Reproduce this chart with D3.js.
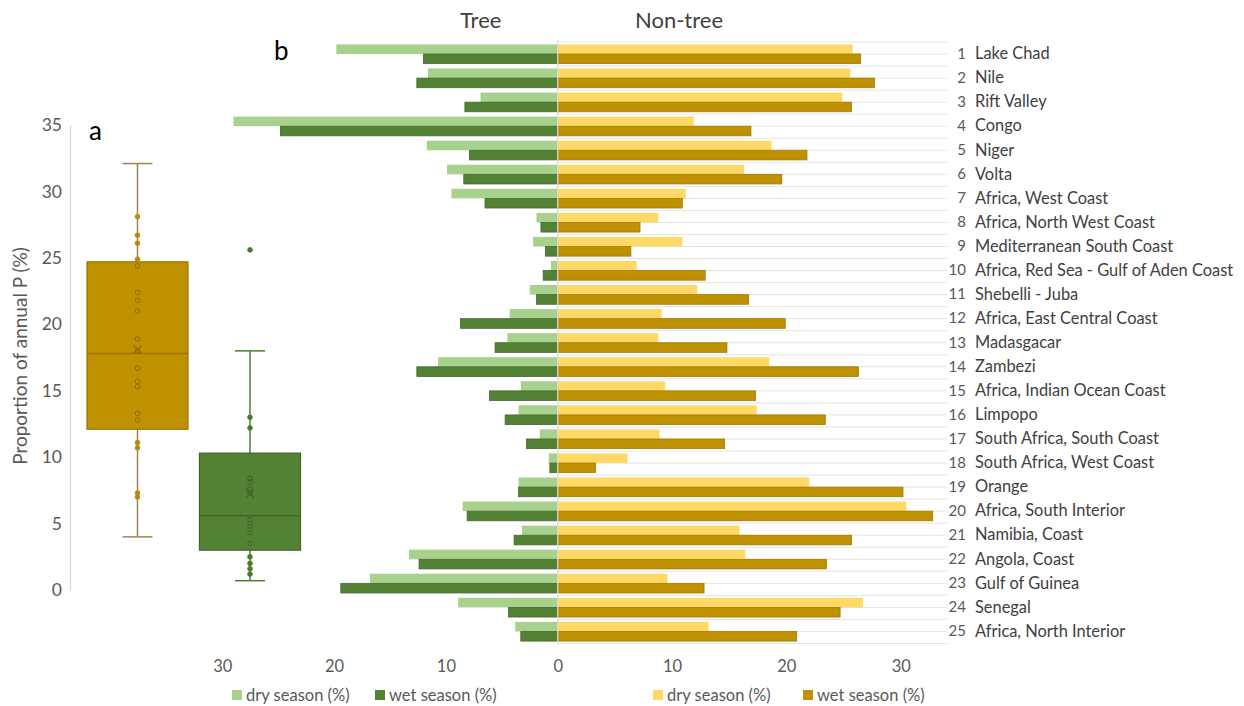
<!DOCTYPE html>
<html>
<head>
<meta charset="utf-8">
<script src="https://cdn.jsdelivr.net/npm/d3@7"></script>
<style>
  html, body { margin: 0; padding: 0; background: #ffffff; }
  svg { display: block; font-family: "Lato", "Open Sans", sans-serif; }
</style>
</head>
<body>
<svg id="chart" width="1244" height="706"></svg>
<script>
// ---- Data ---------------------------------------------------------------
const regions = [
  "Lake Chad", "Nile", "Rift Valley", "Congo", "Niger", "Volta",
  "Africa, West Coast", "Africa, North West Coast", "Mediterranean South Coast",
  "Africa, Red Sea - Gulf of Aden Coast", "Shebelli - Juba",
  "Africa, East Central Coast", "Madasgacar", "Zambezi",
  "Africa, Indian Ocean Coast", "Limpopo", "South Africa, South Coast",
  "South Africa, West Coast", "Orange", "Africa, South Interior",
  "Namibia, Coast", "Angola, Coast", "Gulf of Guinea", "Senegal",
  "Africa, North Interior"
];

// Proportion of annual P (%) falling on tree cover
const treeDry = [19.8, 11.6, 6.9, 29.0, 11.7, 9.9, 9.5, 1.9, 2.2, 0.6, 2.5, 4.3, 4.5,
                 10.7, 3.3, 3.5, 1.6, 0.8, 3.5, 8.5, 3.2, 13.3, 16.8, 8.9, 3.8];
const treeWet = [12.0, 12.6, 8.3, 24.8, 7.9, 8.4, 6.5, 1.5, 1.1, 1.3, 1.9, 8.7, 5.6,
                 12.6, 6.1, 4.7, 2.8, 0.7, 3.5, 8.1, 3.9, 12.4, 19.4, 4.4, 3.3];

// Proportion of annual P (%) falling on non-tree cover
const nonTreeDry = [25.8, 25.6, 24.9, 11.9, 18.7, 16.3, 11.2, 8.8, 10.9, 6.9, 12.2, 9.1, 8.8,
                    18.5, 9.4, 17.4, 8.9, 6.1, 22.0, 30.5, 15.9, 16.4, 9.6, 26.7, 13.2];
const nonTreeWet = [26.5, 27.7, 25.7, 16.9, 21.8, 19.6, 10.9, 7.2, 6.4, 12.9, 16.7, 19.9, 14.8,
                    26.3, 17.3, 23.4, 14.6, 3.3, 30.2, 32.8, 25.7, 23.5, 12.8, 24.7, 20.9];

const barTicks = [0, 10, 20, 30];
const legendLabels = ["dry season (%)", "wet season (%)"];

// Box plot summaries (panel a)
const boxGroups = ["Non-tree", "Tree"];
const boxLow    = [4.0, 0.7];
const boxQ1     = [12.1, 3.0];
const boxMedian = [17.8, 5.6];
const boxQ3     = [24.7, 10.3];
const boxHigh   = [32.1, 18.0];
const boxMean   = [18.1, 7.25];
const boxPointsNonTree = [28.1, 26.7, 26.1, 24.9, 24.4, 22.4, 21.8, 21.0, 18.9, 18.0, 16.7,
                          15.7, 15.3, 13.3, 12.8, 11.1, 10.7, 7.3, 7.0];
const boxPointsTree = [25.6, 13.0, 12.2, 8.4, 8.1, 7.6, 7.3, 5.3, 4.8, 4.3, 3.5, 2.5, 2.0, 1.6, 1.2];
const boxTicks = [0, 5, 10, 15, 20, 25, 30, 35];

// ---- Styling ------------------------------------------------------------
const col = {
  treeDry: "#a9d18e", treeWet: "#548235", treeWetEdge: "#416a28",
  ntDry: "#ffd966", ntWet: "#bf9000", ntWetEdge: "#a37b00",
  text: "#595959", dark: "#404040", grid: "#e4e4e4"
};

const svg = d3.select("#chart");

// ---- Panel b: mirrored bars ---------------------------------------------
const x0 = 557.7;
const xTree = d3.scaleLinear().domain([0, 30]).range([x0, 222.3]);
const xNon  = d3.scaleLinear().domain([0, 30]).range([x0, 900.7]);
const y = d3.scaleBand().domain(regions).range([42, 643.5]).paddingInner(0.2).paddingOuter(0.1);
const half = y.bandwidth() / 2;
const step = y.step();

// light horizontal grid on the non-tree side
const gridG = svg.append("g");
d3.range(0, regions.length * 2 + 1).forEach(i => {
  const gy = 42 + i * step / 2;
  gridG.append("line")
    .attr("x1", x0).attr("x2", 947).attr("y1", gy).attr("y2", gy)
    .attr("stroke", col.grid).attr("stroke-width", 1);
});

const rows = regions.map((r, i) => ({ r, i }));

// tree bars (to the left)
const gTree = svg.append("g");
gTree.selectAll("rect.dry").data(rows).join("rect")
  .attr("x", d => xTree(treeDry[d.i]))
  .attr("y", d => y(d.r))
  .attr("width", d => x0 - xTree(treeDry[d.i]))
  .attr("height", half)
  .attr("fill", col.treeDry);
gTree.selectAll("rect.wet").data(rows).join("rect")
  .attr("x", d => xTree(treeWet[d.i]))
  .attr("y", d => y(d.r) + half)
  .attr("width", d => x0 - xTree(treeWet[d.i]))
  .attr("height", half)
  .attr("fill", col.treeWet)
  .attr("stroke", col.treeWetEdge).attr("stroke-width", 0.8);

// non-tree bars (to the right)
const gNon = svg.append("g");
gNon.selectAll("rect.dry").data(rows).join("rect")
  .attr("x", x0)
  .attr("y", d => y(d.r))
  .attr("width", d => xNon(nonTreeDry[d.i]) - x0)
  .attr("height", half)
  .attr("fill", col.ntDry);
gNon.selectAll("rect.wet").data(rows).join("rect")
  .attr("x", x0)
  .attr("y", d => y(d.r) + half)
  .attr("width", d => xNon(nonTreeWet[d.i]) - x0)
  .attr("height", half)
  .attr("fill", col.ntWet)
  .attr("stroke", col.ntWetEdge).attr("stroke-width", 0.8);

// centre divider
svg.append("line")
  .attr("x1", x0).attr("x2", x0).attr("y1", 40).attr("y2", 644)
  .attr("stroke", "#d9d9d9").attr("stroke-width", 1.2);

// bottom axes
function styleAxis(g) {
  g.select(".domain").remove();
  g.selectAll(".tick line").remove();
  g.selectAll(".tick text")
    .attr("font-size", 16.5).attr("fill", col.text)
    .attr("font-family", "Lato, 'Open Sans', sans-serif");
}
svg.append("g").attr("transform", "translate(0,657)")
  .call(d3.axisBottom(xTree).tickValues(barTicks).tickSize(0).tickPadding(3).tickFormat(d3.format("d")))
  .call(styleAxis);
svg.append("g").attr("transform", "translate(0,657)")
  .call(d3.axisBottom(xNon).tickValues(barTicks.slice(1)).tickSize(0).tickPadding(3).tickFormat(d3.format("d")))
  .call(styleAxis);

// region labels on the right
const lab = svg.append("g");
lab.selectAll("text.num").data(rows).join("text")
  .attr("x", 966).attr("y", d => y(d.r) + y.bandwidth() / 2 - 0.5)
  .attr("dy", "0.35em").attr("text-anchor", "end")
  .attr("font-size", 15).attr("fill", col.text)
  .text(d => d.i + 1);
lab.selectAll("text.name").data(rows).join("text")
  .attr("x", 975).attr("y", d => y(d.r) + y.bandwidth() / 2 - 0.5)
  .attr("dy", "0.35em")
  .attr("font-size", 16.4).attr("fill", col.dark)
  .text(d => d.r);

// panel headings
svg.append("text").attr("x", 480.7).attr("y", 28).attr("text-anchor", "middle")
  .attr("font-size", 22).attr("fill", col.dark).text("Tree");
svg.append("text").attr("x", 679).attr("y", 28).attr("text-anchor", "middle")
  .attr("font-size", 22).attr("fill", col.dark).text("Non-tree");
svg.append("text").attr("x", 274).attr("y", 60)
  .attr("font-size", 26).attr("fill", "#000").text("b");

// legends
function legend(xs, colors) {
  const g = svg.append("g");
  legendLabels.forEach((t, k) => {
    g.append("rect").attr("x", xs[k]).attr("y", 690).attr("width", 10).attr("height", 10)
      .attr("fill", colors[k]);
    g.append("text").attr("x", xs[k] + 14).attr("y", 695).attr("dy", "0.35em")
      .attr("font-size", 16.5).attr("fill", col.text).text(t);
  });
}
legend([232, 375], [col.treeDry, col.treeWet]);
legend([653, 803], [col.ntDry, col.ntWet]);

// ---- Panel a: box plots -------------------------------------------------
const yBox = d3.scaleLinear().domain([0, 35]).range([590, 125]);
const xBox = d3.scalePoint().domain(boxGroups).range([137.5, 250]);
const boxW = 101, capW = 30;

svg.append("g").attr("transform", "translate(70,0)")
  .call(d3.axisLeft(yBox).tickValues(boxTicks).tickSize(0).tickSizeOuter(0).tickPadding(8))
  .call(g => {
    g.select(".domain").attr("stroke", "#d9d9d9").attr("stroke-width", 1.3);
    g.selectAll(".tick text").attr("font-size", 17.5).attr("fill", col.text)
      .attr("font-family", "Lato, 'Open Sans', sans-serif");
  });

svg.append("text")
  .attr("transform", "translate(27,356) rotate(-90)")
  .attr("text-anchor", "middle")
  .attr("font-size", 19).attr("fill", col.text)
  .text("Proportion of annual P (%)");

svg.append("text").attr("x", 89).attr("y", 140)
  .attr("font-size", 26).attr("fill", "#000").text("a");

const boxStyle = [
  { fill: "#bf9000", edge: "#9a7400", whisk: "#a08550", pt: "#b58a10", ring: "#8c6a00" },
  { fill: "#548235", edge: "#3c6425", whisk: "#4f7d33", pt: "#467a2c", ring: "#3b6524" }
];
const boxPoints = [boxPointsNonTree, boxPointsTree];

boxGroups.forEach((grp, k) => {
  const cx = xBox(grp);
  const s = boxStyle[k];
  const g = svg.append("g");
  // whisker stem and caps
  g.append("line").attr("x1", cx).attr("x2", cx)
    .attr("y1", yBox(boxHigh[k])).attr("y2", yBox(boxLow[k]))
    .attr("stroke", s.whisk).attr("stroke-width", 1.5);
  [boxHigh[k], boxLow[k]].forEach(v => {
    g.append("line").attr("x1", cx - capW / 2).attr("x2", cx + capW / 2)
      .attr("y1", yBox(v)).attr("y2", yBox(v))
      .attr("stroke", s.whisk).attr("stroke-width", 1.5);
  });
  // box
  g.append("rect")
    .attr("x", cx - boxW / 2).attr("width", boxW)
    .attr("y", yBox(boxQ3[k])).attr("height", yBox(boxQ1[k]) - yBox(boxQ3[k]))
    .attr("fill", s.fill).attr("stroke", s.edge).attr("stroke-width", 1.2);
  g.append("line").attr("x1", cx - boxW / 2).attr("x2", cx + boxW / 2)
    .attr("y1", yBox(boxMedian[k])).attr("y2", yBox(boxMedian[k]))
    .attr("stroke", s.edge).attr("stroke-width", 1.3);
  // individual points
  boxPoints[k].forEach(v => {
    const inside = v > boxQ1[k] && v < boxQ3[k];
    g.append("circle").attr("cx", cx).attr("cy", yBox(v)).attr("r", 2.3)
      .attr("fill", inside ? "none" : s.pt)
      .attr("stroke", inside ? s.ring : s.pt).attr("stroke-width", 1);
  });
  // mean marker
  const my = yBox(boxMean[k]);
  g.append("path")
    .attr("d", `M${cx - 4},${my - 4}L${cx + 4},${my + 4}M${cx - 4},${my + 4}L${cx + 4},${my - 4}`)
    .attr("stroke", s.ring).attr("stroke-width", 1.2);
});
</script>
</body>
</html>
